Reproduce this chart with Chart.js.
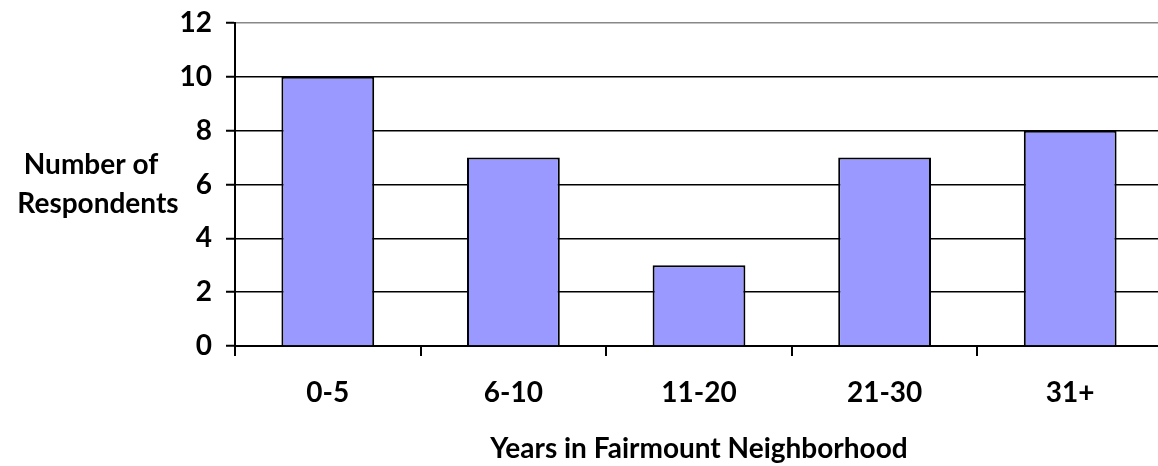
<!DOCTYPE html>
<html>
<head>
<meta charset="utf-8">
<script src="https://cdn.jsdelivr.net/npm/chart.js@4.4.0/dist/chart.umd.min.js"></script>
<style>
  html, body { margin: 0; padding: 0; background: #fff; overflow: hidden; }
  #wrap { position: relative; width: 1170px; height: 466px; }
</style>
</head>
<body>
<div id="wrap"><canvas id="c"></canvas></div>
<script>
const categories = ['0-5', '6-10', '11-20', '21-30', '31+'];
const respondents = [10, 7, 3, 7, 8];
const yTitleLines = ['Number of', 'Respondents'];
const xTitle = 'Years in Fairmount Neighborhood';
const yMin = 0, yMax = 12, yStep = 2;

const FONT = 'Lato, "Open Sans", sans-serif';
const FSIZE = 28;

const yTitlePlugin = {
  id: 'yTitle',
  afterDraw(chart) {
    const ctx = chart.ctx;
    const a = chart.chartArea;
    const mid = (a.top + a.bottom) / 2;
    ctx.save();
    ctx.font = 'bold ' + FSIZE + 'px ' + FONT;
    ctx.fillStyle = '#000';
    ctx.textAlign = 'center';
    ctx.textBaseline = 'alphabetic';
    ctx.fillText(yTitleLines[0], 91, mid - 11);
    ctx.fillText(yTitleLines[1], 98, mid + 28);
    ctx.restore();
  }
};

new Chart(document.getElementById('c'), {
  type: 'bar',
  data: {
    labels: categories,
    datasets: [{
      data: respondents,
      backgroundColor: '#9999FF',
      borderColor: '#000',
      borderWidth: 2,
      barPercentage: 0.5,
      categoryPercentage: 1.0
    }]
  },
  options: {
    responsive: true,
    maintainAspectRatio: false,
    animation: false,
    layout: { padding: { top: 23, right: 7, bottom: 0, left: 0 } },
    plugins: { legend: { display: false }, tooltip: { enabled: false } },
    scales: {
      x: {
        offset: true,
        grid: {
          display: true,
          offset: true,
          drawOnChartArea: false,
          drawTicks: true,
          tickLength: 10,
          tickColor: '#000',
          tickWidth: 2,
          lineWidth: 2,
          color: '#000'
        },
        border: { display: true, color: '#000', width: 2 },
        ticks: {
          color: '#000',
          font: { family: FONT, size: FSIZE, weight: 'bold' },
          padding: 20,
          maxRotation: 0
        },
        title: {
          display: true,
          text: xTitle,
          color: '#000',
          font: { family: FONT, size: FSIZE, weight: 'bold' },
          padding: { top: 0, bottom: 0 }
        },
        afterFit(scale) { scale.height = 120; scale.paddingLeft = 0; scale.paddingRight = 0; }
      },
      y: {
        min: yMin,
        max: yMax,
        ticks: {
          stepSize: yStep,
          color: '#000',
          font: { family: FONT, size: FSIZE, weight: 'bold' },
          padding: 14
        },
        grid: {
          color: (c) => (c.tick && c.tick.value === yMax) ? '#888' : '#000',
          lineWidth: 1.5,
          tickLength: 9,
          tickColor: '#000',
          tickWidth: 2
        },
        border: { display: true, color: '#000', width: 2 },
        afterFit(scale) { scale.width = 235; scale.paddingTop = 0; scale.paddingBottom = 0; }
      }
    }
  },
  plugins: [yTitlePlugin]
});
</script>
</body>
</html>
